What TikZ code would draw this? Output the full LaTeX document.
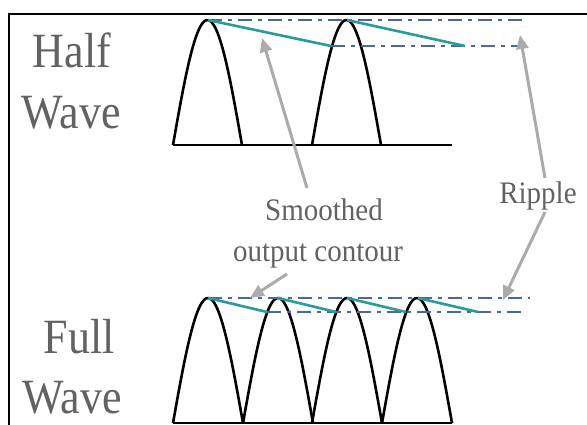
\documentclass[tikz,border=0pt]{standalone}
\usepackage{fontspec}
\setmainfont{Liberation Serif}
\usetikzlibrary{arrows.meta,positioning}
\definecolor{LevelBlue}{HTML}{4A66A8}
\definecolor{ContourTeal}{HTML}{2A9C98}
\definecolor{PointerGray}{HTML}{ABABAB}
\definecolor{LabelGray}{HTML}{626262}

\begin{document}
\begin{tikzpicture}[x=1pt,y=-1pt,
  wave/.style={line width=2.6pt,black},
  level/.style={line width=2.4pt,LevelBlue,dash pattern=on 14pt off 6pt on 4pt off 6pt},
  contour/.style={line width=2.6pt,ContourTeal},
  pointer/.style={line width=3pt,PointerGray,-{Triangle[length=14pt,width=12pt]}},
  bigtitle/.style={font=\fontsize{44}{44}\selectfont,LabelGray,yscale=1.12,anchor=base},
  note/.style={font=\fontsize{29}{29}\selectfont,LabelGray,yscale=1.08,anchor=base}]
  \fill[white] (0,0) rectangle (587,424);
  \useasboundingbox (0,0) rectangle (587,424);
  % frame
  \draw[line width=2.5pt,line cap=rect] (9,424) -- (9,14) -- (587,14);

  % half wave
  \draw[wave] (173,145) -- (452,145);
  \foreach \xa in {173,312}
    \draw[wave] plot[domain=0:180,samples=50] ({\xa+69*\x/180},{145-125*sin(\x)});
  \coordinate (hp1) at (208,20);
  \coordinate (hp2) at (347,20);
  \coordinate (hlo1) at (331,46);
  \coordinate (hlo2) at (465,46);
  \draw[level] (hp1) -- (522,20);
  \draw[level] (hlo1) -- (518,46);
  \draw[contour] (hp1) -- (hlo1);
  \draw[contour] (hp2) -- (hlo2);

  % full wave
  \draw[wave] (173,423) -- (452,423);
  \foreach \xa in {173,243,312,382}
    \draw[wave] plot[domain=0:180,samples=50] ({\xa+70*\x/180},{423-125*sin(\x)});
  \draw[level] (208,298) -- (530,298);
  \draw[level] (267,312) -- (527,312);
  \foreach \xp/\xe in {208/267,278/336,347/406,418/478}
    \draw[contour] (\xp,298) -- (\xe,312);

  % labels
  \node[bigtitle] (half) at (72,67) {Half};
  \node[bigtitle] (wavetop) at (71,128) {Wave};
  \node[bigtitle] (full) at (79,353) {Full};
  \node[bigtitle] (wavebot) at (72,413) {Wave};
  \node[note] (smooth) at (324,220) {Smoothed};
  \node[note] (contourtxt) at (318,261) {output contour};
  \node[note] (ripple) at (538,203) {Ripple};

  % pointers
  \coordinate (smoothtail) at (307,188);
  \coordinate (smoothtip) at (262,38);
  \coordinate (contourtail) at (287,274);
  \coordinate (contourtip) at (250,298);
  \coordinate (rippletail) at (545,178);
  \coordinate (rippletip) at (520,35);
  \coordinate (ripplelowtail) at (545,212);
  \coordinate (ripplelowtip) at (503,300);
  \draw[pointer] (smoothtail) -- (smoothtip);
  \draw[pointer] (contourtail) -- (contourtip);
  \draw[pointer] (rippletail) -- (rippletip);
  \draw[pointer] (ripplelowtail) -- (ripplelowtip);
\end{tikzpicture}
\end{document}
